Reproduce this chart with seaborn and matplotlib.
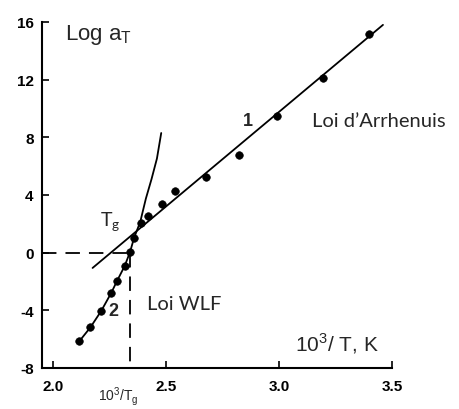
import numpy as np
import pandas as pd
import matplotlib
matplotlib.use("Agg")
import matplotlib.pyplot as plt
import seaborn as sns

# Data
# curve 1 : Arrhenius points (1e3/T, log aT)
arr_x = [2.358, 2.388, 2.42, 2.48, 2.54, 2.677, 2.824, 2.992, 3.193, 3.40]
arr_y = [1.04, 2.08, 2.55, 3.40, 4.28, 5.25, 6.80, 9.47, 12.15, 15.2]
# curve 2 : WLF points
wlf_x = [2.116, 2.164, 2.212, 2.257, 2.282, 2.316, 2.34]
wlf_y = [-6.13, -5.19, -4.05, -2.78, -1.97, -0.93, 0.05]

# fitted straight line (Arrhenius) end points
fit1_x = [2.174, 3.46]
fit1_y = [-1.06, 15.8]
# WLF fitted curve
fit2_x = [2.116, 2.164, 2.212, 2.257, 2.282, 2.316, 2.34, 2.358, 2.385, 2.41, 2.435, 2.459, 2.478]
fit2_y = [-6.13, -5.19, -4.05, -2.78, -1.97, -0.93, 0.05, 1.04, 2.13, 3.75, 5.1, 6.53, 8.3]

tg_x = 2.34
x_ticks = [2.0, 2.5, 3.0, 3.5]
y_ticks = [-8, -4, 0, 4, 8, 12, 16]

sns.set_style("ticks")
plt.rcParams['font.family'] = ['Liberation Sans', 'DejaVu Sans']

fig = plt.figure(figsize=(4.6, 4.1), dpi=100)
ax = fig.add_axes([42 / 460, 1 - 369 / 410, 350 / 460, 346 / 410])

pts = pd.DataFrame({"x": arr_x + wlf_x, "y": arr_y + wlf_y})
sns.lineplot(x=fit1_x, y=fit1_y, color="black", lw=1.3, ax=ax)
sns.lineplot(x=fit2_x, y=fit2_y, color="black", lw=1.3, sort=False, ax=ax)
sns.scatterplot(data=pts, x="x", y="y", color="black", s=30, edgecolor="black", ax=ax, zorder=3)

# Tg construction lines
ax.plot([1.95, tg_x], [0, 0], color="black", lw=1.3, dashes=(8, 5))
ax.plot([tg_x, tg_x], [0, -8], color="black", lw=1.3, dashes=(8, 5))

ax.set_xlim(1.95, 3.5)
ax.set_ylim(-8, 16)
ax.set_xticks(x_ticks)
ax.set_xticklabels(["2.0", "2.5", "3.0", "3.5"])
ax.set_yticks(y_ticks)
ax.set_yticklabels([str(v) for v in y_ticks])
ax.tick_params(direction="in", length=5, width=1.2, labelsize=11, colors="black")
ax.tick_params(axis="x", pad=8)
ax.tick_params(axis="y", pad=6)
for lab in ax.get_xticklabels() + ax.get_yticklabels():
    lab.set_fontweight("bold")
sns.despine(ax=ax)
for s in ["left", "bottom"]:
    ax.spines[s].set_linewidth(1.5)
    ax.spines[s].set_color("black")
ax.set_xlabel("")
ax.set_ylabel("")

ax.text(2.053, 14.8, r"Log a$_\mathregular{T}$", fontsize=16, va="baseline")
ax.text(3.071, -6.8, r"10$^\mathregular{3}$/ T, K", fontsize=15, va="baseline")
ax.text(2.863, 9.2, "1", fontsize=13, fontweight="bold", ha="center", va="center")
ax.text(2.265, -4.0, "2", fontsize=13, fontweight="bold", ha="center", va="center")

cal = ["Lato", "DejaVu Sans"]
ax.text(2.208, 1.9, r"T$_\mathregular{g}$", fontsize=14, family=cal, va="baseline")
ax.text(2.416, -3.5, "Loi WLF", fontsize=14.5, family=cal, va="center")
ax.text(3.146, 9.2, "Loi d\u2019Arrhenuis", fontsize=14.5, family=cal, va="center", clip_on=False)
fig.text(118 / 460, 1 - 408 / 410, r"10$^\mathregular{3}$/T$_\mathregular{g}$", fontsize=10,
         ha="center", va="bottom")

fig.savefig("out.png", dpi=100)
